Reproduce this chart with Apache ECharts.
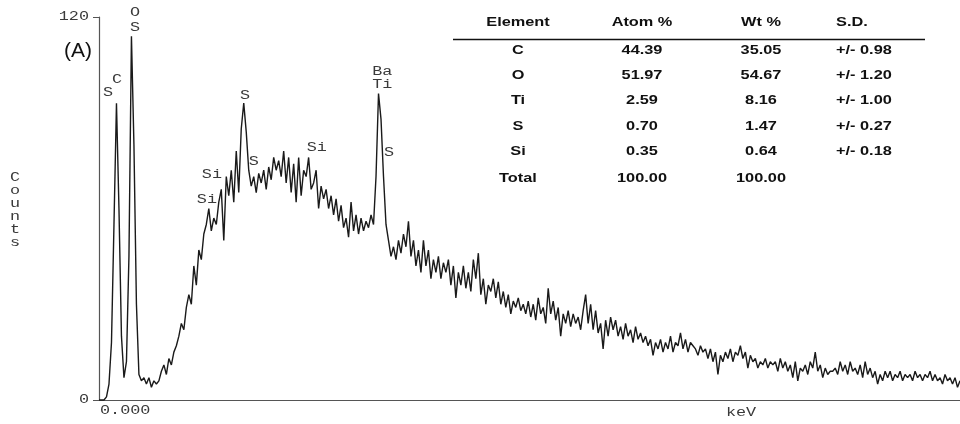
<!DOCTYPE html>
<html>
<head>
<meta charset="utf-8">
<script src="https://cdn.jsdelivr.net/npm/echarts@6/dist/echarts.min.js"></script>
<style>html,body{margin:0;padding:0;background:#fff}#c{width:960px;height:424px}</style>
</head>
<body>
<div id="c"></div>
<script>
// Energy grid of the spectrum (keV)
const keVStart = 0;
const keVStep = 0.04;
const keVMax = 13.8;
// Counts per channel
const counts = [
0,0,0,1,5,18,55,93,60,20,
7,12,45,114,80,30,8,6,7,5,
7,4,6,5,6,9,11,8,13,11,
15,17,20,24,22,29,33,30,42,36,
47,44,52,55,60,53,57,55,62,66,
50,70,64,72,62,78,65,85,93,84,
72,67,70,65,71,68,72,66,73,69,
76,72,75,70,78,68,76,65,74,62,
76,64,72,70,76,66,68,72,60,67,
63,66,60,64,58,63,56,61,54,57,
51,62,53,58,52,57,53,56,54,58,
55,70,96,88,70,55,50,45,48,44,
50,46,52,48,56,45,50,42,47,40,
50,42,47,38,44,40,45,38,43,40,
44,36,42,32,40,36,42,35,40,34,
44,38,46,33,38,30,36,34,38,32,
37,30,34,29,33,27,31,29,32,28,
30,27,31,26,30,25,32,27,29,24,
35,27,31,25,29,20,27,24,28,23,
27,24,26,22,28,33,24,30,22,28,
21,24,16,25,20,26,22,25,20,23,
19,24,20,22,18,23,19,21,18,20,
17,19,14,18,16,19,15,18,16,20,
15,18,17,21,16,19,15,18,17,16,
14,17,15,16,13,16,12,15,8,14,
12,15,13,16,12,15,14,17,13,15,
10,14,12,13,10,12,11,13,10,12,
11,12,9,13,10,12,9,11,7,12,
6,10,9,11,8,12,10,15,9,11,
7,10,8,9,9,10,8,12,9,11,
8,12,9,10,8,11,7,12,8,10,
7,9,5,8,6,9,7,9,6,8,
7,9,6,8,7,8,6,9,7,8,
6,8,7,9,6,8,6,7,5,8,
6,7,5,7,4,6
];
// Peak identification labels (text, energy keV, count level)
const peakText  = ['S','C','O','S','S','S','Si','Si','Si','Ba','Ti','S'];
const peakKeV   = [0.144,0.288,0.577,0.577,2.34,2.48,1.81,1.73,3.49,4.54,4.54,4.65];
const peakCount = [96.2,100.3,121.3,116.6,95.3,74.6,70.5,62.7,79,102.8,98.7,77.4];
// Y axis ticks
const yTicks = [0, 120];
// Axis texts
const xStartLabel = '0.000';
const xUnitLabel = 'keV';
const yName = 'Counts';
const panelLabel = '(A)';
// Quantification table
const tableHeader = ['Element','Atom %','Wt %','S.D.'];
const tableElement = ['C','O','Ti','S','Si','Total'];
const tableAtom = ['44.39','51.97','2.59','0.70','0.35','100.00'];
const tableWt = ['35.05','54.67','8.16','1.47','0.64','100.00'];
const tableSD = ['+/- 0.98','+/- 1.20','+/- 1.00','+/- 0.27','+/- 0.18',''];

const spectrum = counts.map((c, i) => [+(keVStart + i * keVStep).toFixed(3), c]);

const mono = 'Liberation Mono';
const sans = 'Liberation Sans';
const monoStyle = { font: '12px ' + mono, fill: '#3a3a3a', textVerticalAlign: 'middle' };
const SX = 1.4;

const chart = echarts.init(document.getElementById('c'), null, { renderer: 'canvas' });
chart.setOption({
  animation: false,
  backgroundColor: '#fff',
  grid: { left: 99, right: 0, top: 17, bottom: 24 },
  xAxis: {
    type: 'value', min: keVStart, max: keVMax,
    axisLine: { show: true, lineStyle: { color: '#555', width: 1.2 } },
    axisTick: { show: false }, axisLabel: { show: false }, splitLine: { show: false }
  },
  yAxis: {
    type: 'value', min: yTicks[0], max: yTicks[1], interval: yTicks[1] - yTicks[0],
    axisLine: { show: true, lineStyle: { color: '#555', width: 1.2 } },
    axisTick: { show: true, length: 6, lineStyle: { color: '#555' } },
    axisLabel: { show: false },
    splitLine: { show: false }
  },
  series: [
    { type: 'line', data: spectrum, symbol: 'none', smooth: false,
      lineStyle: { color: '#1a1a1a', width: 1.4 }, clip: false }
  ]
});

const graphic = [];
// table
const colX = [518, 642, 761, 836];
const colAlign = ['center', 'center', 'center', 'left'];
const headerY = 23;
const rowY = [51, 76, 101, 127, 152, 179];
const TSX = 1.36;
const tableFont = 'bold 12px ' + sans;
tableHeader.forEach((h, j) => graphic.push({ type: 'text', x: colX[j], y: headerY, scaleX: TSX,
  style: { text: h, font: tableFont, fill: '#111', textAlign: colAlign[j], textVerticalAlign: 'middle' } }));
graphic.push({ type: 'line', shape: { x1: 453, y1: 39.5, x2: 925, y2: 39.5 }, style: { stroke: '#111', lineWidth: 1.3 } });
[tableElement, tableAtom, tableWt, tableSD].forEach((col, j) => col.forEach((v, r) => graphic.push({
  type: 'text', x: colX[j], y: rowY[r], scaleX: TSX,
  style: { text: v, font: tableFont, fill: '#111', textAlign: colAlign[j], textVerticalAlign: 'middle' } })));
// panel label
graphic.push({ type: 'text', x: 78, y: 51, style: { text: panelLabel, font: '21px ' + sans, fill: '#111', textAlign: 'center', textVerticalAlign: 'middle' } });
// vertical axis name, letters stacked
graphic.push({ type: 'text', x: 15, y: 210, scaleX: SX,
  style: Object.assign({}, monoStyle, { text: yName.split('').join('\n'), lineHeight: 13, textAlign: 'center' }) });
// y tick labels from the axis scale
yTicks.forEach(v => {
  const py = chart.convertToPixel({ yAxisIndex: 0 }, v);
  graphic.push({ type: 'text', x: 89, y: py, scaleX: SX, style: Object.assign({}, monoStyle, { text: String(v), textAlign: 'right' }) });
});
// x axis labels
const x0 = chart.convertToPixel({ xAxisIndex: 0 }, keVStart);
const yBase = chart.convertToPixel({ yAxisIndex: 0 }, 0);
graphic.push({ type: 'text', x: x0 + 1, y: yBase + 11, scaleX: SX, style: Object.assign({}, monoStyle, { text: xStartLabel, textAlign: 'left' }) });
graphic.push({ type: 'text', x: 741, y: yBase + 13, scaleX: SX, style: Object.assign({}, monoStyle, { text: xUnitLabel, textAlign: 'center' }) });
// peak labels at their data positions
peakText.forEach((t, i) => {
  const p = chart.convertToPixel({ xAxisIndex: 0, yAxisIndex: 0 }, [peakKeV[i], peakCount[i]]);
  graphic.push({ type: 'text', x: p[0], y: p[1], scaleX: SX, style: Object.assign({}, monoStyle, { text: t, textAlign: 'center' }) });
});
chart.setOption({ graphic: graphic });
</script>
</body>
</html>
